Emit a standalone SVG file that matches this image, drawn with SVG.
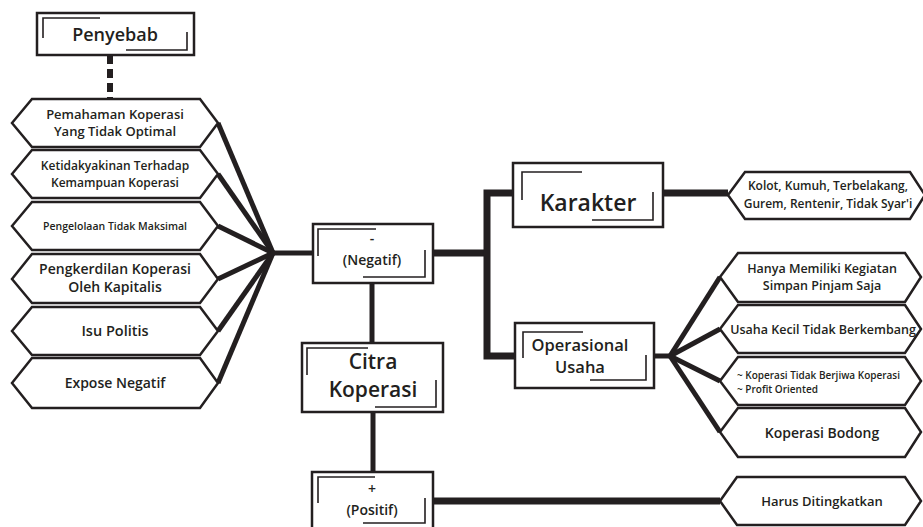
<svg xmlns="http://www.w3.org/2000/svg" width="923" height="527" viewBox="0 0 923 527">
<style>
.box{fill:#fff;stroke:#231f20;stroke-width:2.5}
.hex{fill:#fff;stroke:#231f20;stroke-width:2.5;stroke-linejoin:miter}
.br{fill:none;stroke:#231f20;stroke-width:1.6}
.ln{fill:none;stroke:#231f20;stroke-width:5;stroke-linecap:butt}
.thk{fill:none;stroke:#231f20;stroke-width:7;stroke-linejoin:miter}
text{font-family:"Open Sans","Noto Sans",sans-serif;font-weight:600;fill:#231f20;text-anchor:middle}
</style>
<rect width="923" height="527" fill="#fff"/>
<g id="connectors">
  <line x1="110" y1="55" x2="110" y2="99" stroke="#231f20" stroke-width="6" stroke-dasharray="9,5"/>
  <line class="ln" x1="218" y1="123" x2="273" y2="253"/>
  <line class="ln" x1="218" y1="174" x2="273" y2="253"/>
  <line class="ln" x1="218" y1="226" x2="273" y2="253"/>
  <line class="ln" x1="218" y1="279" x2="273" y2="253"/>
  <line class="ln" x1="218" y1="331" x2="273" y2="253"/>
  <line class="ln" x1="218" y1="383" x2="273" y2="253"/>
  <line class="ln" x1="271" y1="253" x2="313" y2="253"/>
  <line class="thk" x1="433" y1="253" x2="487" y2="253"/>
  <polyline class="thk" points="515,193 487,193 487,356 515,356"/>
  <line class="thk" x1="663" y1="193" x2="728" y2="193"/>
  <line class="ln" x1="654" y1="356" x2="672" y2="356"/>
  <line class="ln" x1="670" y1="356" x2="720" y2="277"/>
  <line class="ln" x1="670" y1="356" x2="720" y2="329"/>
  <line class="ln" x1="670" y1="356" x2="720" y2="381"/>
  <line class="ln" x1="670" y1="356" x2="720" y2="432"/>
  <line class="ln" x1="372" y1="283" x2="372" y2="343" stroke-width="6"/>
  <line class="ln" x1="373" y1="412" x2="373" y2="472" stroke-width="6"/>
  <line class="thk" x1="433" y1="501" x2="720" y2="501"/>
</g>
<g id="penyebab">
  <rect class="box" x="37" y="13" width="157" height="42"/>
  <polyline class="br" points="100,18 43,18 43,38"/>
  <polyline class="br" points="187,32 187,50 126,50"/>
  <text x="115" y="41" font-size="18">Penyebab</text>
</g>
<g id="pemahaman">
  <polygon class="hex" points="12,123 32,99 200,99 218,123 200,147 32,147"/>
  <text x="115" y="119" font-size="13">Pemahaman Koperasi</text>
  <text x="115" y="136" font-size="13">Yang Tidak Optimal</text>
</g>
<g id="ketidakyakinan">
  <polygon class="hex" points="12,174 32,150 200,150 218,174 200,198 32,198"/>
  <text x="115" y="170" font-size="12">Ketidakyakinan Terhadap</text>
  <text x="115" y="187" font-size="12">Kemampuan Koperasi</text>
</g>
<g id="pengelolaan">
  <polygon class="hex" points="12,226 32,202 200,202 218,226 200,250 32,250"/>
  <text x="115" y="230" font-size="10.5">Pengelolaan Tidak Maksimal</text>
</g>
<g id="pengkerdilan">
  <polygon class="hex" points="12,279 32,254 200,254 218,279 200,303 32,303"/>
  <text x="115" y="274" font-size="14">Pengkerdilan Koperasi</text>
  <text x="115" y="292" font-size="14">Oleh Kapitalis</text>
</g>
<g id="isu">
  <polygon class="hex" points="12,331 32,307 200,307 218,331 200,355 32,355"/>
  <text x="115" y="336" font-size="14.5">Isu Politis</text>
</g>
<g id="expose">
  <polygon class="hex" points="12,383 32,358 200,358 218,383 200,408 32,408"/>
  <text x="115" y="388" font-size="14">Expose Negatif</text>
</g>
<g id="negatif">
  <rect class="box" x="313" y="224" width="120" height="59"/>
  <polyline class="br" points="376,229 318,229 318,256"/>
  <polyline class="br" points="425,250 425,277 363,277"/>
  <text x="372" y="243" font-size="14">-</text>
  <text x="372" y="265" font-size="14">(Negatif)</text>
</g>
<g id="citra">
  <rect class="box" x="302" y="343" width="141" height="69"/>
  <polyline class="br" points="368,348 307,348 307,375"/>
  <polyline class="br" points="436,380 436,407 375,407"/>
  <text x="373" y="369" font-size="21">Citra</text>
  <text x="373" y="397" font-size="21">Koperasi</text>
</g>
<g id="positif">
  <rect class="box" x="312" y="472" width="121" height="60"/>
  <polyline class="br" points="375,477 318,477 318,503"/>
  <polyline class="br" points="425,498 425,523 363,523"/>
  <text x="372" y="494" font-size="14">+</text>
  <text x="372" y="515" font-size="14">(Positif)</text>
</g>
<g id="karakter">
  <rect class="box" x="513" y="163" width="150" height="64"/>
  <polyline class="br" points="582,172 522,172 522,200"/>
  <polyline class="br" points="653,192 653,220 592,220"/>
  <text x="588" y="211" font-size="23">Karakter</text>
</g>
<g id="operasional">
  <rect class="box" x="515" y="323" width="139" height="65"/>
  <polyline class="br" points="583,332 523,332 523,358"/>
  <polyline class="br" points="646,355 646,380 590,380"/>
  <text x="580" y="351" font-size="16.5">Operasional</text>
  <text x="580" y="373" font-size="16.5">Usaha</text>
</g>
<g id="kolot">
  <polygon class="hex" points="728,195 745,172 910,172 925,195 910,219 745,219"/>
  <text x="828" y="190" font-size="12">Kolot, Kumuh, Terbelakang,</text>
  <text x="828" y="208" font-size="12">Gurem, Rentenir, Tidak Syar'i</text>
</g>
<g id="hanya">
  <polygon class="hex" points="720,277 738,253 905,253 921,277 905,302 738,302"/>
  <text x="822" y="273" font-size="12.5">Hanya Memiliki Kegiatan</text>
  <text x="822" y="290" font-size="12.5">Simpan Pinjam Saja</text>
</g>
<g id="usaha-kecil">
  <polygon class="hex" points="720,329 738,305 905,305 921,329 905,353 738,353"/>
  <text x="823" y="334" font-size="12.5">Usaha Kecil Tidak Berkembang</text>
</g>
<g id="tidak-berjiwa">
  <polygon class="hex" points="720,381 738,357 905,357 921,381 905,405 738,405"/>
  <text x="737" y="379" font-size="10" style="text-anchor:start">~ Koperasi Tidak Berjiwa Koperasi</text>
  <text x="737" y="393" font-size="10" style="text-anchor:start">~ Profit Oriented</text>
</g>
<g id="bodong">
  <polygon class="hex" points="720,432 738,408 905,408 921,432 905,457 738,457"/>
  <text x="822" y="438" font-size="14">Koperasi Bodong</text>
</g>
<g id="harus">
  <polygon class="hex" points="720,501 737,477 905,477 921,501 905,525 737,525"/>
  <text x="822" y="506" font-size="13">Harus Ditingkatkan</text>
</g>
</svg>
